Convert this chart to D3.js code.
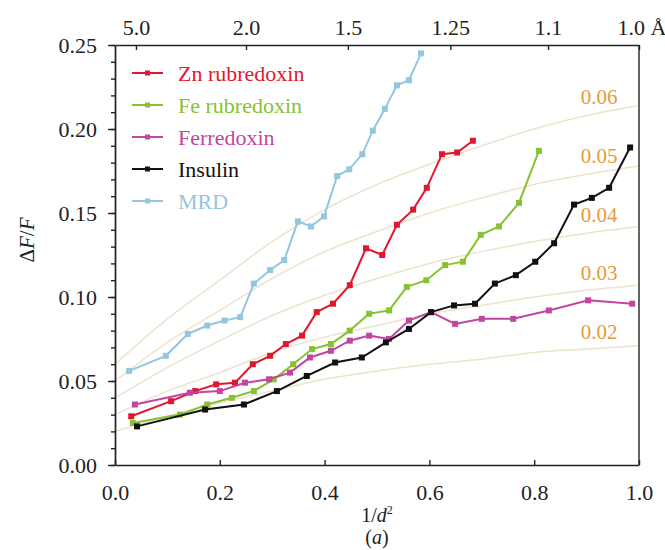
<!DOCTYPE html>
<html lang="en">
<head>
<meta charset="UTF-8">
<title>ΔF/F against 1/d²</title>
<script src="https://d3js.org/d3.v7.min.js"></script>
<style>
  body { margin: 0; background: #fff; }
  svg { display: block; font-family: "Liberation Serif", "Times New Roman", serif; }
  .axis path, .axis line { stroke: #222; stroke-width: 1.4px; }
  .axis text { font-size: 22px; fill: #222; font-family: "Liberation Serif", serif; }
  .guide { fill: none; stroke: #eee3cc; stroke-width: 1.5px; }
  .guide-label { font-size: 21px; fill: #e59c3a; }
  .series path { fill: none; stroke-width: 2px; }
  .legend text { font-size: 22px; }
</style>
</head>
<body>
<div id="chart"></div>
<script>
// series
const seriesNames = ["Zn rubredoxin", "Fe rubredoxin", "Ferredoxin", "Insulin", "MRD"];
const seriesColors = ["#e0182d", "#86c232", "#c2469f", "#111111", "#92c7de"];

const znX = [0.031,0.107,0.153,0.193,0.229,0.263,0.296,0.326,0.357,0.385,0.416,0.448,0.479,0.510,0.538,0.569,0.595,0.624,0.653,0.683];
const znY = [0.029,0.038,0.044,0.048,0.049,0.060,0.065,0.072,0.077,0.091,0.096,0.107,0.129,0.125,0.143,0.152,0.165,0.185,0.186,0.193];

const feX = [0.034,0.124,0.176,0.223,0.265,0.303,0.340,0.376,0.412,0.448,0.485,0.523,0.557,0.594,0.630,0.664,0.698,0.733,0.771,0.809];
const feY = [0.025,0.030,0.036,0.040,0.044,0.051,0.060,0.069,0.072,0.080,0.090,0.092,0.106,0.110,0.119,0.121,0.137,0.142,0.156,0.187];

const ferX = [0.038,0.143,0.200,0.248,0.294,0.334,0.372,0.412,0.448,0.485,0.523,0.561,0.603,0.649,0.700,0.760,0.828,0.903,0.987];
const ferY = [0.036,0.043,0.044,0.049,0.051,0.055,0.064,0.068,0.074,0.077,0.075,0.086,0.091,0.084,0.087,0.087,0.092,0.098,0.096];

const insX = [0.042,0.172,0.246,0.309,0.366,0.420,0.471,0.517,0.561,0.603,0.647,0.687,0.725,0.765,0.802,0.838,0.876,0.910,0.943,0.983];
const insY = [0.023,0.033,0.036,0.044,0.053,0.061,0.064,0.073,0.081,0.091,0.095,0.096,0.108,0.113,0.121,0.132,0.155,0.159,0.165,0.189];

const mrdX = [0.027,0.097,0.139,0.176,0.209,0.239,0.265,0.296,0.323,0.349,0.374,0.399,0.424,0.447,0.472,0.492,0.515,0.538,0.561,0.584];
const mrdY = [0.056,0.065,0.078,0.083,0.086,0.088,0.108,0.116,0.122,0.145,0.142,0.148,0.172,0.176,0.185,0.199,0.212,0.226,0.229,0.245];

// faint reference curves, labelled on the right
const guideLabels = ["0.06", "0.05", "0.04", "0.03", "0.02"];
const guideX = [0, 0.1, 0.2, 0.3, 0.4, 0.5, 0.6, 0.7, 0.8, 0.9, 1.0];
const guide06 = [0.060,0.087,0.110,0.133,0.152,0.167,0.179,0.190,0.200,0.208,0.214];
const guide05 = [0.050,0.073,0.092,0.111,0.127,0.139,0.150,0.159,0.167,0.173,0.178];
const guide04 = [0.040,0.058,0.074,0.089,0.101,0.111,0.120,0.127,0.133,0.138,0.142];
const guide03 = [0.030,0.044,0.055,0.067,0.076,0.083,0.090,0.095,0.100,0.104,0.107];
const guide02 = [0.020,0.029,0.037,0.044,0.051,0.056,0.060,0.063,0.067,0.069,0.071];

// tick labels
const bottomTicks = [0, 0.2, 0.4, 0.6, 0.8, 1.0];
const leftTicks = [0, 0.05, 0.10, 0.15, 0.20, 0.25];
const topD = [5.0, 2.0, 1.5, 1.25, 1.1, 1.0];
const topLabels = ["5.0", "2.0", "1.5", "1.25", "1.1", "1.0"];

const width = 665, height = 550;
const margin = { top: 45, right: 26, bottom: 85, left: 115 };
const innerW = width - margin.left - margin.right;
const innerH = height - margin.top - margin.bottom;

const svg = d3.select("#chart").append("svg")
    .attr("width", width).attr("height", height);
const g = svg.append("g").attr("transform", `translate(${margin.left},${margin.top})`);

const x = d3.scaleLinear().domain([0, 1]).range([0, innerW]);
const y = d3.scaleLinear().domain([0, 0.25]).range([innerH, 0]);

// guide curves
const guides = [guide06, guide05, guide04, guide03, guide02];
const guideLine = d3.line()
    .x((d, i) => x(guideX[i]))
    .y(d => y(d))
    .curve(d3.curveMonotoneX);
guides.forEach((vals, k) => {
    g.append("path").attr("class", "guide").attr("d", guideLine(vals));
    g.append("text").attr("class", "guide-label")
        .attr("x", x(0.889))
        .attr("y", y(vals[vals.length - 1]) - 1 - k * 1.5)
        .text(guideLabels[k]);
});

// axes
g.append("g").attr("class", "axis")
    .attr("transform", `translate(0,${innerH})`)
    .call(d3.axisBottom(x).tickValues(bottomTicks).tickFormat(d3.format(".1f"))
        .tickSizeInner(-5).tickSizeOuter(0).tickPadding(19));

g.append("g").attr("class", "axis")
    .call(d3.axisLeft(y).tickValues(d3.range(0, 0.2501, 0.01)).tickFormat("")
        .tickSizeInner(4).tickSizeOuter(0));
g.append("g").attr("class", "axis")
    .call(d3.axisLeft(y).tickValues(leftTicks).tickFormat(d3.format(".2f"))
        .tickSizeInner(7).tickSizeOuter(0).tickPadding(11));

const topAxis = g.append("g").attr("class", "axis")
    .call(d3.axisTop(x).tickValues(topD.map(d => 1 / (d * d)))
        .tickFormat((v, i) => topLabels[i])
        .tickSizeInner(-5).tickSizeOuter(0).tickPadding(10));
topAxis.selectAll(".tick text").filter((d, i) => i === topD.length - 1)
    .attr("text-anchor", "start").attr("x", -22).text("1.0 Å");

g.append("line").attr("class", "frame")
    .attr("x1", innerW).attr("x2", innerW).attr("y1", 0).attr("y2", innerH)
    .attr("stroke", "#222").attr("stroke-width", 1.4);

// series
const seriesData = [[znX, znY], [feX, feY], [ferX, ferY], [insX, insY], [mrdX, mrdY]];
const line = d3.line().x(d => x(d[0])).y(d => y(d[1]));
seriesData.forEach(([xs, ys], s) => {
    const pts = xs.map((v, i) => [v, ys[i]]);
    const sg = g.append("g").attr("class", "series");
    sg.append("path").attr("d", line(pts)).attr("stroke", seriesColors[s]);
    sg.selectAll("rect").data(pts).enter().append("rect")
        .attr("x", d => x(d[0]) - 3).attr("y", d => y(d[1]) - 3)
        .attr("width", 6).attr("height", 6)
        .attr("fill", seriesColors[s]);
});

// legend
const legend = svg.append("g").attr("class", "legend");
seriesNames.forEach((name, i) => {
    const ly = 73 + i * 32;
    legend.append("line").attr("x1", 132).attr("x2", 163).attr("y1", ly).attr("y2", ly)
        .attr("stroke", seriesColors[i]).attr("stroke-width", 2);
    legend.append("rect").attr("x", 145).attr("y", ly - 2.5).attr("width", 5).attr("height", 5)
        .attr("fill", seriesColors[i]);
    legend.append("text").attr("x", 178).attr("y", ly + 8)
        .attr("fill", seriesColors[i]).text(name);
});

// axis titles
const yTitle = svg.append("text")
    .attr("transform", "translate(34,240) rotate(-90)")
    .attr("text-anchor", "middle").attr("font-size", 21).attr("fill", "#222");
yTitle.append("tspan").text("Δ");
yTitle.append("tspan").attr("font-style", "italic").text("F");
yTitle.append("tspan").text("/");
yTitle.append("tspan").attr("font-style", "italic").text("F");

const xTitle = svg.append("text")
    .attr("x", margin.left + x(0.5)).attr("y", 522)
    .attr("text-anchor", "middle").attr("font-size", 20).attr("fill", "#222");
xTitle.append("tspan").text("1/");
xTitle.append("tspan").attr("font-style", "italic").text("d");
xTitle.append("tspan").attr("font-size", 12).attr("dy", -8).text("2");

const panel = svg.append("text")
    .attr("x", margin.left + x(0.5)).attr("y", 544)
    .attr("text-anchor", "middle").attr("font-size", 20).attr("fill", "#222");
panel.append("tspan").text("(");
panel.append("tspan").attr("font-style", "italic").text("a");
panel.append("tspan").text(")");
</script>
</body>
</html>
